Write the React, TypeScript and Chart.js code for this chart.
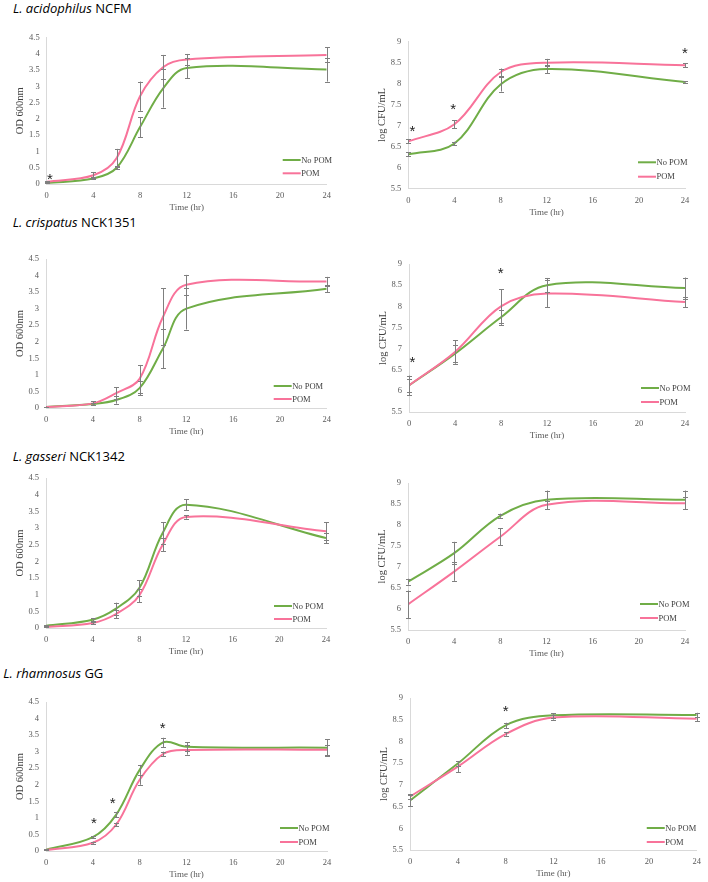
import React, { useEffect, useRef } from 'react';
import { Chart, registerables } from 'chart.js';
Chart.register(...registerables);

// ---------- data ----------
const OD_TIMES = [0, 4, 6, 8, 10, 12, 24];
const CFU_TIMES = [0, 4, 8, 12, 24];
const SERIES_LABELS = ['No POM', 'POM'];

// L. acidophilus NCFM
const acidOdNoPom = [0.03, 0.17, 0.5, 1.75, 2.95, 3.57, 3.52];
const acidOdNoPomErr = [0.01, 0.03, 0.05, 0.31, 0.6, 0.32, 0.37];
const acidOdPom = [0.07, 0.27, 0.8, 2.7, 3.6, 3.83, 3.97];
const acidOdPomErr = [0.01, 0.1, 0.28, 0.45, 0.37, 0.17, 0.23];
const acidOdStarX = [0.28];
const acidOdStarY = [0.25];
const acidCfuNoPom = [6.31, 6.57, 7.98, 8.35, 8.04];
const acidCfuNoPomErr = [0.05, 0.04, 0.17, 0.1, 0.02];
const acidCfuPom = [6.62, 7.03, 8.27, 8.5, 8.44];
const acidCfuPomErr = [0.05, 0.1, 0.09, 0.09, 0.05];
const acidCfuStarX = [0.35, 3.9, 24];
const acidCfuStarY = [6.93, 7.45, 8.79];

// L. crispatus NCK1351
const crispOdNoPom = [0.03, 0.12, 0.24, 0.6, 1.8, 3.0, 3.6];
const crispOdNoPomErr = [0.01, 0.04, 0.11, 0.22, 0.6, 0.63, 0.1];
const crispOdPom = [0.03, 0.14, 0.45, 0.88, 2.75, 3.72, 3.82];
const crispOdPomErr = [0.01, 0.06, 0.17, 0.42, 0.86, 0.3, 0.14];
const crispCfuNoPom = [6.13, 6.88, 7.74, 8.5, 8.43];
const crispCfuNoPomErr = [0.15, 0.2, 0.18, 0.17, 0.25];
const crispCfuPom = [6.13, 6.92, 8.0, 8.3, 8.1];
const crispCfuPomErr = [0.23, 0.28, 0.4, 0.32, 0.12];
const crispCfuStarX = [0.3, 7.97];
const crispCfuStarY = [6.74, 8.86];

// L. gasseri NCK1342
const gassOdNoPom = [0.07, 0.25, 0.58, 1.2, 2.85, 3.7, 2.7];
const gassOdNoPomErr = [0.01, 0.04, 0.18, 0.23, 0.32, 0.17, 0.15];
const gassOdPom = [0.03, 0.15, 0.42, 0.98, 2.5, 3.33, 2.9];
const gassOdPomErr = [0.01, 0.04, 0.12, 0.2, 0.2, 0.05, 0.27];
const gassCfuNoPom = [6.65, 7.33, 8.22, 8.6, 8.6];
const gassCfuNoPomErr = [0.07, 0.27, 0.05, 0.22, 0.22];
const gassCfuPom = [6.11, 6.89, 7.72, 8.48, 8.52];
const gassCfuPomErr = [0.33, 0.22, 0.2, 0.1, 0.15];

// L. rhamnosus GG
const rhamOdNoPom = [0.04, 0.42, 1.1, 2.45, 3.28, 3.15, 3.12];
const rhamOdNoPomErr = [0.01, 0.03, 0.08, 0.15, 0.14, 0.13, 0.25];
const rhamOdPom = [0.03, 0.25, 0.8, 2.15, 2.93, 3.05, 3.06];
const rhamOdPomErr = [0.01, 0.03, 0.06, 0.15, 0.07, 0.14, 0.15];
const rhamOdStarX = [4.1, 5.7, 9.97];
const rhamOdStarY = [0.94, 1.54, 3.78];
const rhamCfuNoPom = [6.64, 7.49, 8.37, 8.6, 8.61];
const rhamCfuNoPomErr = [0.13, 0.05, 0.06, 0.05, 0.05];
const rhamCfuPom = [6.73, 7.42, 8.17, 8.55, 8.52];
const rhamCfuPomErr = [0.06, 0.13, 0.04, 0.05, 0.05];
const rhamCfuStarX = [8.0];
const rhamCfuStarY = [8.76];

// ---------- styling ----------
const GREEN = '#70AD47';
const PINK = '#F8739A';
const SERIF = '"Liberation Serif", "Times New Roman", serif';
const YW = 38;
const XH = 32;

type PanelCfg = {
  times: number[];
  noPom: number[];
  noPomErr: number[];
  pom: number[];
  pomErr: number[];
  starX: number[];
  starY: number[];
  od: boolean;
  canvasX: number;
  canvasW: number;
  area: [number, number, number, number]; // left, top, right, bottom
  legend: [number, number, number];
};

const panels: PanelCfg[] = [
  { times: OD_TIMES, noPom: acidOdNoPom, noPomErr: acidOdNoPomErr, pom: acidOdPom, pomErr: acidOdPomErr, starX: acidOdStarX, starY: acidOdStarY, od: true, canvasX: 0, canvasW: 354, area: [46.7, 37.7, 326.7, 184], legend: [-44, -24, -10.7] },
  { times: CFU_TIMES, noPom: acidCfuNoPom, noPomErr: acidCfuNoPomErr, pom: acidCfuPom, pomErr: acidCfuPomErr, starX: acidCfuStarX, starY: acidCfuStarY, od: false, canvasX: 354, canvasW: 354, area: [408.3, 41.7, 685, 188.3], legend: [-47, -26, -11.6] },
  { times: OD_TIMES, noPom: crispOdNoPom, noPomErr: crispOdNoPomErr, pom: crispOdPom, pomErr: crispOdPomErr, starX: [], starY: [], od: true, canvasX: 0, canvasW: 354, area: [46, 259, 326.7, 408], legend: [-53, -22, -9] },
  { times: CFU_TIMES, noPom: crispCfuNoPom, noPomErr: crispCfuNoPomErr, pom: crispCfuPom, pomErr: crispCfuPomErr, starX: crispCfuStarX, starY: crispCfuStarY, od: false, canvasX: 354, canvasW: 354, area: [409, 264, 685, 412], legend: [-44, -24, -10] },
  { times: OD_TIMES, noPom: gassOdNoPom, noPomErr: gassOdNoPomErr, pom: gassOdPom, pomErr: gassOdPomErr, starX: [], starY: [], od: true, canvasX: 0, canvasW: 354, area: [46, 478, 326, 628], legend: [-52, -22, -9] },
  { times: CFU_TIMES, noPom: gassCfuNoPom, noPomErr: gassCfuNoPomErr, pom: gassCfuPom, pomErr: gassCfuPomErr, starX: [], starY: [], od: false, canvasX: 354, canvasW: 354, area: [408, 483, 685, 630], legend: [-45, -26, -12] },
  { times: OD_TIMES, noPom: rhamOdNoPom, noPomErr: rhamOdNoPomErr, pom: rhamOdPom, pomErr: rhamOdPomErr, starX: rhamOdStarX, starY: rhamOdStarY, od: true, canvasX: 0, canvasW: 354, area: [46, 702, 327, 851], legend: [-47, -23, -9] },
  { times: CFU_TIMES, noPom: rhamCfuNoPom, noPomErr: rhamCfuNoPomErr, pom: rhamCfuPom, pomErr: rhamCfuPomErr, starX: rhamCfuStarX, starY: rhamCfuStarY, od: false, canvasX: 354, canvasW: 354, area: [410, 698, 699, 850], legend: [-50, -22, -8] },
];

const titles = [
  { italic: 'L. acidophilus', rest: ' NCFM', x: 13, y: 8.3 },
  { italic: 'L. crispatus', rest: ' NCK1351', x: 12.7, y: 222.3 },
  { italic: 'L. gasseri', rest: ' NCK1342', x: 12.7, y: 456 },
  { italic: 'L. rhamnosus', rest: ' GG', x: 3.3, y: 673.3 },
];

function Panel({ cfg }: { cfg: PanelCfg }) {
  const ref = useRef<HTMLCanvasElement>(null);
  const [cl, ct, cr, cb] = cfg.area;
  const canvasTop = Math.round(ct - 14);
  const canvasBottom = Math.round(cb + 36);
  const canvasH = canvasBottom - canvasTop;
  const canvasLeft = cfg.canvasX;
  const canvasW = cfg.canvasW;

  useEffect(() => {
    const colors = [GREEN, PINK];
    const errs = [cfg.noPomErr, cfg.pomErr];
    const mk = (vals: number[]) => cfg.times.map((t, i) => ({ x: t, y: vals[i] }));

    const errorBars = {
      id: 'errorBars',
      afterDatasetsDraw(chart: any) {
        const { ctx, scales } = chart;
        const xs = scales.x, ys = scales.y;
        ctx.save();
        ctx.strokeStyle = '#7F7F7F';
        ctx.lineWidth = 1;
        [0, 1].forEach((di) => {
          const ds = chart.data.datasets[di];
          ds.data.forEach((p: any, i: number) => {
            const e = errs[di][i];
            const px = Math.round(xs.getPixelForValue(p.x)) + 0.5;
            const y1 = ys.getPixelForValue(p.y + e);
            const y2 = ys.getPixelForValue(p.y - e);
            ctx.beginPath();
            ctx.moveTo(px, y1);
            ctx.lineTo(px, y2);
            ctx.moveTo(px - 2.5, Math.round(y1) + 0.5);
            ctx.lineTo(px + 2.5, Math.round(y1) + 0.5);
            ctx.moveTo(px - 2.5, Math.round(y2) + 0.5);
            ctx.lineTo(px + 2.5, Math.round(y2) + 0.5);
            ctx.stroke();
          });
        });
        ctx.restore();
      },
    };

    const stars = {
      id: 'stars',
      afterDraw(chart: any) {
        const { ctx, scales } = chart;
        ctx.save();
        ctx.fillStyle = '#222';
        ctx.font = '15px "Liberation Sans", Arial, sans-serif';
        ctx.textAlign = 'center';
        ctx.textBaseline = 'middle';
        cfg.starX.forEach((sx, i) => {
          const px = scales.x.getPixelForValue(sx);
          const py = scales.y.getPixelForValue(cfg.starY[i]);
          ctx.fillText('*', px, py + 3.5);
        });
        ctx.restore();
      },
    };

    const legend = {
      id: 'insideLegend',
      afterDraw(chart: any) {
        const { ctx, chartArea } = chart;
        const [lx, ly1, ly2] = cfg.legend;
        const ys = [ly1, ly2];
        ctx.save();
        ctx.font = `8.5px ${SERIF}`;
        ctx.textBaseline = 'middle';
        ctx.textAlign = 'left';
        SERIES_LABELS.forEach((lab, i) => {
          const x0 = chartArea.right + lx;
          const y0 = chartArea.bottom + ys[i];
          ctx.strokeStyle = colors[i];
          ctx.lineWidth = 2;
          ctx.beginPath();
          ctx.moveTo(x0, y0);
          ctx.lineTo(x0 + 18, y0);
          ctx.stroke();
          ctx.fillStyle = '#404040';
          ctx.fillText(lab, x0 + 18.5, y0 + 0.5);
        });
        ctx.restore();
      },
    };

    const chart = new Chart(ref.current!, {
      type: 'line',
      data: {
        datasets: [
          { label: SERIES_LABELS[0], data: mk(cfg.noPom), borderColor: GREEN, backgroundColor: GREEN, borderWidth: 2, pointRadius: 0, tension: 0.36, order: 1, fill: false },
          { label: SERIES_LABELS[1], data: mk(cfg.pom), borderColor: PINK, backgroundColor: PINK, borderWidth: 2, pointRadius: 0, tension: 0.36, order: 0, fill: false },
        ],
      },
      options: {
        responsive: false,
        animation: false,
        events: [],
        layout: {
          padding: {
            left: cl - canvasLeft - YW,
            top: ct - canvasTop,
            right: canvasLeft + canvasW - cr,
            bottom: canvasBottom - cb - XH,
          },
        },
        plugins: { legend: { display: false }, tooltip: { enabled: false } },
        scales: {
          x: {
            type: 'linear',
            min: 0,
            max: 24,
            grid: { display: false, drawTicks: false },
            border: { display: true, color: '#D9D9D9', width: 1 },
            ticks: { stepSize: 4, padding: 7, color: '#595959', font: { family: SERIF, size: 8.5 }, maxRotation: 0 },
            title: { display: true, text: 'Time (hr)', color: '#595959', font: { family: SERIF, size: 9 }, padding: { top: 0, bottom: 2.6 } },
            afterFit: (s: any) => { s.height = XH; },
          },
          y: {
            type: 'linear',
            min: cfg.od ? 0 : 5.5,
            max: cfg.od ? 4.5 : 9,
            grid: { display: false, drawTicks: false },
            border: { display: true, color: '#D9D9D9', width: 1 },
            ticks: {
              stepSize: 0.5,
              padding: 7,
              color: '#595959',
              font: { family: SERIF, size: 8.5 },
              callback: (v: any) => String(Math.round(Number(v) * 10) / 10),
            },
            title: { display: true, text: cfg.od ? 'OD 600nm' : 'log CFU/mL', color: '#404040', font: { family: SERIF, size: 10.5 }, padding: { top: 5.7, bottom: 0 } },
            afterFit: (s: any) => { s.width = YW; },
          },
        },
      },
      plugins: [errorBars, stars, legend],
    } as any);
    return () => chart.destroy();
  }, []);

  return (
    <canvas
      ref={ref}
      width={canvasW}
      height={canvasH}
      style={{ position: 'absolute', left: canvasLeft, top: canvasTop, width: canvasW, height: canvasH }}
    />
  );
}

export default function App() {
  return (
    <div style={{ position: 'absolute', left: 0, top: 0, width: 708, height: 882, overflow: 'hidden', background: '#fff' }}>
      {titles.map((t, i) => (
        <div
          key={i}
          style={{
            position: 'absolute',
            left: t.x,
            top: t.y - 9,
            height: 18,
            lineHeight: '18px',
            fontFamily: '"Open Sans", "Noto Sans", sans-serif',
            fontSize: 13,
            color: '#000',
            whiteSpace: 'nowrap',
          }}
        >
          <i>{t.italic}</i>
          {t.rest}
        </div>
      ))}
      {panels.map((p, i) => (
        <Panel key={i} cfg={p} />
      ))}
    </div>
  );
}
